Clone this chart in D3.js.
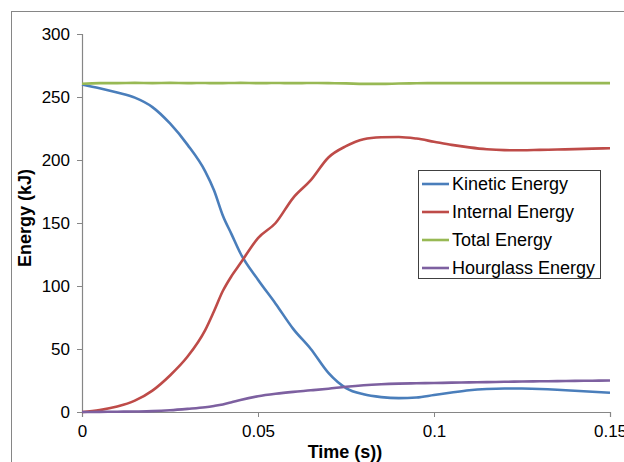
<!DOCTYPE html>
<html>
  <head>
    <meta charset="UTF-8" />
    <title>Energy vs Time</title>
    <script src="https://d3js.org/d3.v7.min.js"></script>
    <style>
      body { margin: 0; background: #fff; }
      text { font-family: Arial, "Liberation Sans", sans-serif; }
    </style>
  </head>
  <body>
    <div id="chart"></div>
    <script>
      // Données
      var time = [0, 0.005, 0.01, 0.015, 0.02, 0.025, 0.03, 0.035, 0.0375, 0.04, 0.0425, 0.045,
        0.05, 0.055, 0.06, 0.065, 0.07, 0.075, 0.08, 0.085, 0.09, 0.095,
        0.1, 0.105, 0.11, 0.115, 0.12, 0.125, 0.13, 0.135, 0.14, 0.145, 0.15];

      var kinetic = [260, 257, 253.5, 249.5, 242, 229, 212, 191, 176, 156, 141, 126,
        105, 86, 66, 50, 31, 19, 14, 11.8, 11, 11.5,
        13.5, 15.5, 17.3, 18.3, 18.7, 18.6, 18.3, 17.7, 16.9, 16.1, 15.3];

      var internal = [0, 1.5, 4.3, 9, 17, 29, 44, 65, 80, 96, 108, 118,
        138, 150, 170, 184, 202, 211, 216.5, 218, 218.3, 217,
        214.5, 212, 210, 208.5, 207.8, 207.7, 208, 208.3, 208.6, 209, 209.3];

      var total = [260.5, 261, 261, 261.2, 261, 261.2, 261, 261.1, 261, 261, 261.1, 261.2,
        261, 261.1, 261, 261.1, 261, 260.8, 260.4, 260.4, 260.7, 260.9,
        261, 261, 261, 261, 261, 261, 261, 261, 261, 261, 261];

      var hourglass = [0, 0.1, 0.2, 0.4, 0.7, 1.4, 2.5, 3.8, 4.8, 6, 7.7, 9.5,
        12.5, 14.5, 16, 17.2, 18.5, 20, 21.2, 22, 22.5, 22.8,
        23, 23.3, 23.5, 23.7, 24, 24.2, 24.4, 24.5, 24.7, 24.8, 25];

      var xTicks = [0, 0.05, 0.1, 0.15];
      var yTicks = [0, 50, 100, 150, 200, 250, 300];

      var seriesNames = ["Kinetic Energy", "Internal Energy", "Total Energy", "Hourglass Energy"];
      var seriesValues = [kinetic, internal, total, hourglass];
      var colors = ["#4A7EBB", "#BE4B48", "#98B954", "#7D60A0"];

      var width = 624, height = 462;
      var margin = { top: 34, right: 14, bottom: 50, left: 82 };

      var svg = d3.select("#chart").append("svg")
        .attr("width", width)
        .attr("height", height);

      // cadre extérieur (style Excel)
      svg.append("rect")
        .attr("x", 11.5).attr("y", 11.5)
        .attr("width", 700).attr("height", 500)
        .attr("fill", "none")
        .attr("stroke", "#868686");

      var x = d3.scaleLinear().domain([0, 0.15]).range([margin.left, width - margin.right]);
      var y = d3.scaleLinear().domain([0, 300]).range([height - margin.bottom, margin.top]);

      // Axes
      var xAxis = svg.append("g")
        .attr("transform", "translate(0," + y(0) + ")")
        .call(d3.axisBottom(x).tickValues(xTicks).tickSize(5).tickPadding(8)
          .tickFormat(function (d) { return String(d); }));

      var yAxis = svg.append("g")
        .attr("transform", "translate(" + x(0) + ",0)")
        .call(d3.axisLeft(y).tickValues(yTicks).tickSize(5).tickPadding(7));

      [xAxis, yAxis].forEach(function (g) {
        g.select(".domain").attr("stroke", "#868686").attr("stroke-width", 1.2);
        g.selectAll(".tick line").attr("stroke", "#868686");
        g.selectAll(".tick text").attr("fill", "#000").style("font-size", "17px");
      });

      // Courbes
      var line = d3.line()
        .x(function (d, i) { return x(time[i]); })
        .y(function (d) { return y(d); })
        .curve(d3.curveMonotoneX);

      seriesValues.forEach(function (vals, k) {
        svg.append("path")
          .datum(vals)
          .attr("fill", "none")
          .attr("stroke", colors[k])
          .attr("stroke-width", 2.6)
          .attr("stroke-linejoin", "round")
          .attr("d", line);
      });

      // Titres des axes
      svg.append("text")
        .attr("x", 345).attr("y", 458)
        .attr("text-anchor", "middle")
        .style("font-size", "18px").style("font-weight", "bold")
        .text("Time (s))");

      svg.append("text")
        .attr("transform", "translate(31,218) rotate(-90)")
        .attr("text-anchor", "middle")
        .style("font-size", "18px").style("font-weight", "bold")
        .text("Energy (kJ)");

      // Légende
      var legend = svg.append("g");
      legend.append("rect")
        .attr("x", 418.5).attr("y", 170.5)
        .attr("width", 182).attr("height", 108)
        .attr("fill", "#fff")
        .attr("stroke", "#404040");

      seriesNames.forEach(function (name, k) {
        var ly = 184 + k * 28;
        legend.append("line")
          .attr("x1", 422).attr("x2", 449)
          .attr("y1", ly).attr("y2", ly)
          .attr("stroke", colors[k]).attr("stroke-width", 2.6);
        legend.append("text")
          .attr("x", 452).attr("y", ly + 6)
          .style("font-size", "18px")
          .text(name);
      });
    </script>
  </body>
</html>
